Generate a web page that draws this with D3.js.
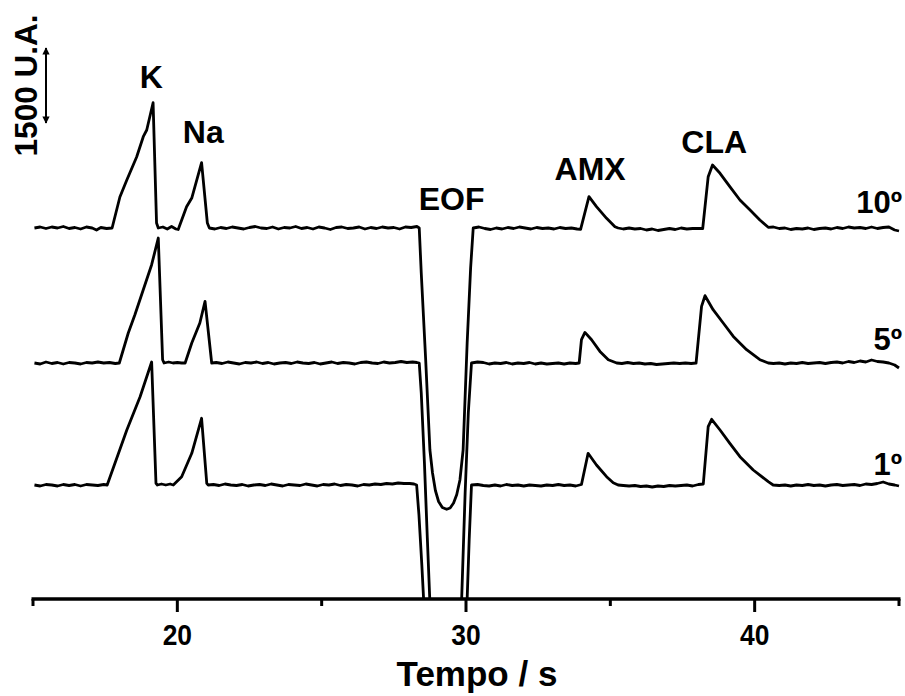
<!DOCTYPE html>
<html>
<head>
<meta charset="utf-8">
<script src="https://d3js.org/d3.v7.min.js"></script>
<style>
  body { margin: 0; background: #fff; }
  text { font-family: "Liberation Sans", Arial, sans-serif; font-weight: bold; fill: #000; }
</style>
</head>
<body>
<svg id="chart" width="905" height="696"></svg>
<script>
// electropherograms, [time (s), signal (U.A.) relative to each trace's baseline]
const trace10 = [
  [15.05,0],[15.25,20],[15.45,-10],[15.65,20],[15.85,0],[16.05,30],[16.25,-10],[16.45,10],[16.65,-20],[16.85,20],[17.05,0],[17.2,-40],[17.35,10],[17.55,-10],[17.74,0],
  [18.01,620],[18.25,960],[18.59,1420],[18.82,1826],[18.94,1960],[19.16,2506],[19.28,100],[19.34,0],
  [19.5,20],[19.65,-20],[19.8,30],[19.95,-20],[20.03,-30],
  [20.32,426],[20.5,600],[20.84,1306],[21.04,100],[21.11,0],
  [21.3,-20],[21.5,10],[21.7,-10],[21.9,20],[22.1,0],[22.3,-20],[22.5,10],[22.7,30],[22.9,0],[23.1,-10],[23.3,20],[23.5,-20],[23.7,10],[23.9,0],[24.1,30],[24.3,-10],[24.5,10],[24.7,-20],[24.9,20],[25.1,0],[25.3,-30],[25.5,10],[25.7,20],[25.9,-10],[26.1,0],[26.3,20],[26.5,-20],[26.7,10],[26.9,-10],[27.1,20],[27.3,0],[27.5,10],[27.7,-20],[27.9,20],[28.1,10],[28.3,30],
  [28.38,0],[28.45,-900],[28.6,-2600],[28.75,-4440],[28.84,-4900],[28.94,-5250],[29.05,-5470],[29.18,-5590],[29.33,-5626],[29.45,-5600],[29.57,-5500],[29.68,-5330],[29.79,-5040],[29.9,-4440],[30.04,-2300],[30.16,-800],[30.25,0],
  [30.45,20],[30.65,-10],[30.85,-30],[31.05,0],[31.25,-20],[31.45,10],[31.65,-10],[31.85,20],[32.05,0],[32.25,-20],[32.45,10],[32.65,-10],[32.85,0],[33.05,-20],[33.25,10],[33.45,-10],[33.65,0],[33.85,-20],
  [33.97,-26],[34.26,626],[34.52,426],[34.87,194],[35.16,26],[35.27,0],
  [35.45,-20],[35.65,0],[35.85,-20],[36.05,-10],[36.25,-40],[36.45,-20],[36.65,-50],[36.85,-30],[37.05,-10],[37.25,-30],[37.45,0],[37.65,-20],[37.85,-10],[38.05,-10],
  [38.2,-10],[38.39,1026],[38.54,1260],[38.8,1094],[39.14,826],[39.49,560],[39.84,360],[40.18,160],[40.47,14],
  [40.65,20],[40.85,-10],[41.05,0],[41.25,-30],[41.45,-10],[41.65,-20],[41.85,0],[42.05,-30],[42.25,-10],[42.45,0],[42.65,-20],[42.85,10],[43.05,-10],[43.25,20],[43.45,0],[43.65,10],[43.85,-10],[44.05,20],[44.25,-10],[44.45,10],[44.65,20],[44.85,-40],[45.0,-60]
];
const trace5 = [
  [15.05,0],[15.25,-20],[15.45,20],[15.65,-10],[15.85,10],[16.05,-20],[16.25,10],[16.45,0],[16.65,-20],[16.85,10],[17.05,0],[17.25,20],[17.45,0],[17.65,10],[17.85,-10],[17.99,0],
  [18.3,600],[18.53,966],[18.82,1466],[19.11,1966],[19.34,2500],[19.49,66],[19.54,0],
  [19.7,20],[19.85,0],[20.0,10],[20.15,0],[20.27,0],
  [20.5,400],[20.78,800],[20.96,1232],[21.19,0],
  [21.35,10],[21.55,-10],[21.75,20],[21.95,0],[22.15,-20],[22.35,10],[22.55,0],[22.75,20],[22.95,-10],[23.15,10],[23.35,-20],[23.55,0],[23.75,10],[23.95,-10],[24.15,20],[24.35,0],[24.55,-10],[24.75,10],[24.95,-20],[25.15,0],[25.35,20],[25.55,-10],[25.75,10],[25.95,0],[26.15,-20],[26.35,10],[26.55,20],[26.75,0],[26.95,-10],[27.15,20],[27.35,0],[27.55,10],[27.75,30],[27.95,10],[28.15,20],[28.3,10],
  [28.38,0],[28.45,-600],[28.56,-2000],[28.66,-3500],[28.75,-4800],[28.85,-5700],[29.27,-6300],[29.7,-5700],[29.85,-4720],[29.97,-2600],[30.08,-1000],[30.19,0],
  [30.4,20],[30.6,10],[30.8,-20],[31.0,0],[31.2,-10],[31.4,10],[31.6,-20],[31.8,0],[32.0,-10],[32.2,10],[32.4,-20],[32.6,0],[32.8,-20],[33.0,-10],[33.2,0],[33.4,-20],[33.6,0],[33.8,-10],
  [33.92,0],[34.0,466],[34.12,612],[34.35,466],[34.64,232],[34.93,66],[35.22,0],
  [35.4,-10],[35.6,10],[35.8,-10],[36.0,0],[36.2,-20],[36.4,-10],[36.6,-30],[36.8,-20],[37.0,-10],[37.2,0],[37.4,-10],[37.6,0],[37.8,-10],
  [37.97,0],[38.16,1132],[38.28,1346],[38.56,1066],[38.91,800],[39.26,532],[39.72,266],[40.18,66],[40.47,0],
  [40.65,-10],[40.85,0],[41.05,-20],[41.25,0],[41.45,-10],[41.65,10],[41.85,-10],[42.05,0],[42.25,10],[42.45,-10],[42.65,10],[42.85,20],[43.05,0],[43.25,30],[43.45,10],[43.65,40],[43.85,20],[44.05,60],[44.25,30],[44.45,20],[44.65,0],[44.85,-40],[45.0,-100]
];
const trace1 = [
  [15.05,0],[15.25,-20],[15.45,10],[15.65,0],[15.85,-20],[16.05,10],[16.25,-10],[16.45,10],[16.65,-20],[16.85,10],[17.05,0],[17.25,-10],[17.45,10],[17.57,0],
  [18.25,1100],[18.71,1766],[19.11,2460],[19.26,34],[19.31,0],
  [19.45,20],[19.6,0],[19.75,20],[19.86,0],
  [20.15,166],[20.5,634],[20.84,1334],[21.02,34],[21.07,0],
  [21.25,10],[21.45,-10],[21.65,20],[21.85,0],[22.05,-10],[22.25,10],[22.45,-20],[22.65,0],[22.85,10],[23.05,-10],[23.25,20],[23.45,0],[23.65,-20],[23.85,10],[24.05,0],[24.25,-10],[24.45,20],[24.65,0],[24.85,-20],[25.05,10],[25.25,0],[25.45,20],[25.65,-10],[25.85,10],[26.05,0],[26.25,-20],[26.45,10],[26.65,0],[26.85,20],[27.05,10],[27.25,30],[27.45,20],[27.65,40],[27.85,30],[28.05,30],[28.2,20],
  [28.29,0],[28.37,-600],[28.47,-1600],[28.56,-2600],[28.65,-3600],[28.8,-5000],[29.27,-6200],[29.8,-5000],[29.93,-3800],[30.04,-2280],[30.11,-1100],[30.19,0],
  [30.4,10],[30.6,-10],[30.8,-20],[31.0,0],[31.2,-20],[31.4,10],[31.6,-10],[31.8,0],[32.0,-20],[32.2,0],[32.4,-10],[32.6,-20],[32.8,0],[33.0,-10],[33.2,10],[33.4,-10],[33.6,0],[33.8,-20],
  [34.0,10],[34.23,634],[34.52,400],[34.87,166],[35.1,46],[35.27,0],
  [35.45,-10],[35.65,-20],[35.85,-10],[36.05,-30],[36.25,-20],[36.45,-40],[36.65,-20],[36.85,-30],[37.05,-10],[37.25,-20],[37.45,-10],[37.65,0],[37.85,-20],[38.05,10],
  [38.22,20],[38.39,1166],[38.51,1314],[38.8,1100],[39.14,834],[39.49,566],[39.95,300],[40.47,66],[40.64,0],
  [40.85,-10],[41.05,0],[41.25,-20],[41.45,0],[41.65,-10],[41.85,10],[42.05,-10],[42.25,0],[42.45,-20],[42.65,0],[42.85,10],[43.05,-10],[43.25,0],[43.45,10],[43.65,-10],[43.85,20],[44.05,10],[44.25,30],[44.45,60],[44.65,20],[44.85,0],[45.0,-20]
];

const traceOffsets = [7420, 4720, 2280];     // stacking offsets (U.A.)
const traceNames = ["10º", "5º", "1º"];
const traceNameY = [7720, 4980, 2480];       // label baseline (U.A.)

const peakNames = ["K", "Na", "EOF", "AMX", "CLA"];
const peakTimes = [19.1, 20.9, 29.5, 34.3, 38.6];
const peakLabelY = [10220, 9114, 7780, 8380, 8926]; // label baseline (U.A.)

const xTicks = [15, 20, 25, 30, 35, 40, 45];
const xTickLabels = [20, 30, 40];
const scaleBar = [9520, 11020];              // 1500 U.A.

const svg = d3.select("#chart");
const margin = { top: 0, right: 6, bottom: 97, left: 33 };
const width = 905, height = 696;

const x = d3.scaleLinear().domain([15, 45]).range([margin.left, width - margin.right]);
const y = d3.scaleLinear().domain([0, 12000]).range([height - margin.bottom, height - margin.bottom - 600]);

const defs = svg.append("defs");
defs.append("clipPath").attr("id", "plotclip")
  .append("rect")
  .attr("x", 0).attr("y", 0)
  .attr("width", width).attr("height", y(0));

const line = d3.line().x(d => x(d[0])).y(d => y(d[1]));

const traces = [trace10, trace5, trace1];
const plot = svg.append("g").attr("clip-path", "url(#plotclip)");
traces.forEach((tr, i) => {
  plot.append("path")
    .datum(tr.map(d => [d[0], d[1] + traceOffsets[i]]))
    .attr("d", line)
    .attr("fill", "none")
    .attr("stroke", "#000")
    .attr("stroke-width", 2.8)
    .attr("stroke-linejoin", "round");
});

// bottom axis
const axis = svg.append("g");
axis.append("line")
  .attr("x1", x(15) - 1.5).attr("x2", x(45) + 1.5)
  .attr("y1", y(0)).attr("y2", y(0))
  .attr("stroke", "#000").attr("stroke-width", 3.5);
axis.selectAll(".tick").data(xTicks).join("line")
  .attr("x1", d => x(d)).attr("x2", d => x(d))
  .attr("y1", y(0)).attr("y2", d => y(0) + (d % 10 === 0 ? 13 : 7))
  .attr("stroke", "#000").attr("stroke-width", 3);
axis.selectAll(".lbl").data(xTickLabels).join("text")
  .attr("x", d => x(d)).attr("y", y(0) + 46)
  .attr("text-anchor", "middle")
  .attr("font-size", 30)
  .attr("transform", d => "translate(" + x(d) + ",0) scale(0.88,1) translate(" + (-x(d)) + ",0)")
  .text(d => d);
svg.append("text")
  .attr("x", 477).attr("y", 686)
  .attr("text-anchor", "middle")
  .attr("font-size", 35)
  .text("Tempo / s");

// peak labels
peakNames.forEach((n, i) => {
  svg.append("text")
    .attr("x", x(peakTimes[i])).attr("y", y(peakLabelY[i]))
    .attr("text-anchor", "middle")
    .attr("font-size", 32)
    .text(n);
});

// trace labels
traceNames.forEach((n, i) => {
  svg.append("text")
    .attr("x", x(45) + 3).attr("y", y(traceNameY[i]))
    .attr("text-anchor", "end")
    .attr("font-size", 31)
    .text(n);
});

// scale bar
defs.append("marker").attr("id", "ah")
  .attr("viewBox", "0 0 10 10").attr("refX", 9).attr("refY", 5)
  .attr("markerWidth", 5).attr("markerHeight", 3.6).attr("orient", "auto-start-reverse")
  .attr("markerUnits", "strokeWidth")
  .append("path").attr("d", "M0,0L10,5L0,10z").attr("fill", "#000");
svg.append("line")
  .attr("x1", 46).attr("x2", 46)
  .attr("y1", y(scaleBar[0])).attr("y2", y(scaleBar[1]))
  .attr("stroke", "#000").attr("stroke-width", 2)
  .attr("marker-start", "url(#ah)").attr("marker-end", "url(#ah)");
svg.append("text")
  .attr("transform", "translate(37," + y((scaleBar[0] + scaleBar[1]) / 2) + ") rotate(-90)")
  .attr("text-anchor", "middle")
  .attr("font-size", 31.5)
  .text("1500 U.A.");
</script>
</body>
</html>
